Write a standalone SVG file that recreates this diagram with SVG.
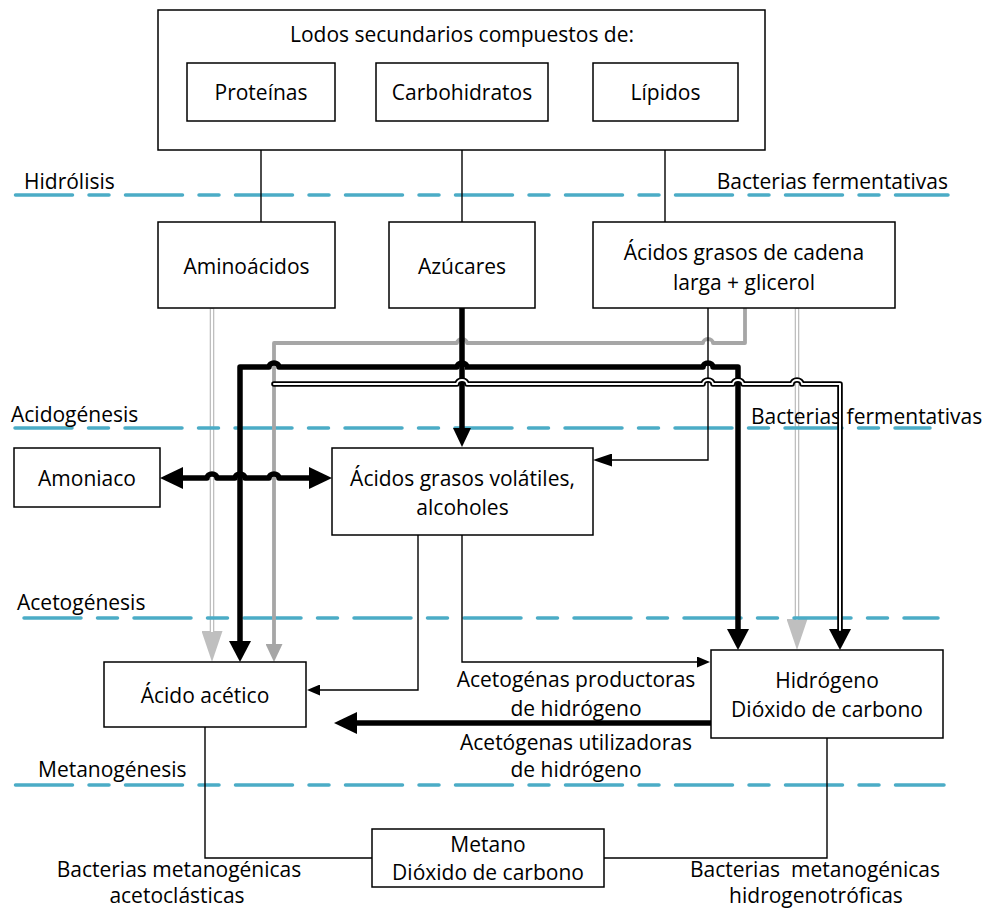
<svg xmlns="http://www.w3.org/2000/svg" width="989" height="911" viewBox="0 0 989 911">
<style>
.box{fill:#fff;stroke:#000;stroke-width:1.5}
.t{font-family:"Open Sans","Liberation Sans",sans-serif;font-size:21px;fill:#000;text-anchor:middle}
.ts{text-anchor:start}
.te{text-anchor:end}
.dash{stroke:#4BACC6;stroke-width:3.5;stroke-linecap:round;stroke-dasharray:57 16.5 20 16.5;fill:none}
.thin{stroke:#000;stroke-width:1.4;fill:none}
.thick{stroke:#000;stroke-width:5.5;fill:none;stroke-linejoin:round}
.gray{stroke:#A6A6A6;stroke-width:3.8;fill:none;stroke-linejoin:round}
.lgo{stroke:#BFBFBF;stroke-width:4.6;fill:none}
.lgi{stroke:#fff;stroke-width:2;fill:none}
.bdo{stroke:#000;stroke-width:5.6;fill:none;stroke-linejoin:round;stroke-linecap:round}
.bdi{stroke:#fff;stroke-width:2;fill:none;stroke-linejoin:round;stroke-linecap:round}
</style>
<defs>
<marker id="hThick" markerUnits="userSpaceOnUse" viewBox="0 -11 21 22" markerWidth="21" markerHeight="22" refX="1" refY="0" orient="auto"><path d="M0,-11 L21,0 L0,11 z" fill="#000"/></marker>
<marker id="hThickS" markerUnits="userSpaceOnUse" viewBox="0 -9 19 18" markerWidth="19" markerHeight="18" refX="1" refY="0" orient="auto"><path d="M0,-9 L19,0 L0,9 z" fill="#000"/></marker>
<marker id="hAmm" markerUnits="userSpaceOnUse" viewBox="0 -11 23 22" markerWidth="23" markerHeight="22" refX="1" refY="0" orient="auto-start-reverse"><path d="M0,-11 L23,0 L0,11 z" fill="#000"/></marker>
<marker id="hGray" markerUnits="userSpaceOnUse" viewBox="0 -8.5 18 17" markerWidth="18" markerHeight="17" refX="1" refY="0" orient="auto"><path d="M0,-8.5 L18,0 L0,8.5 z" fill="#A6A6A6"/></marker>
<marker id="hLG" markerUnits="userSpaceOnUse" viewBox="0 -10.5 31 21" markerWidth="31" markerHeight="21" refX="1" refY="0" orient="auto"><path d="M0,-10.5 L31,0 L0,10.5 z" fill="#BFBFBF"/></marker>
<marker id="hThin" markerUnits="userSpaceOnUse" viewBox="0 -5.5 13 11" markerWidth="13" markerHeight="11" refX="1" refY="0" orient="auto"><path d="M0,-5.5 L13,0 L0,5.5 z" fill="#000"/></marker>
<marker id="hThin2" markerUnits="userSpaceOnUse" viewBox="0 -6.5 19 13" markerWidth="19" markerHeight="13" refX="1" refY="0" orient="auto"><path d="M0,-6.5 L19,0 L0,6.5 z" fill="#000"/></marker>
</defs>
<rect width="989" height="911" fill="#fff"/>

<g id="connectors">
  <path class="lgo" d="M212,308 V632" marker-end="url(#hLG)"/>
  <path class="lgi" d="M212,309 V632"/>
  <path class="lgo" d="M797,308 V620" marker-end="url(#hLG)"/>
  <path class="lgi" d="M797,309 V620"/>
</g>

<g id="phases">
  <line class="dash" x1="15.5" y1="195" x2="948" y2="195"/>
  <line class="dash" x1="15" y1="428" x2="930" y2="428"/>
  <line class="dash" x1="24" y1="618" x2="938" y2="618"/>
  <line class="dash" x1="15.5" y1="785" x2="944" y2="785"/>
  <text class="t ts" x="24" y="189">Hidrólisis</text>
  <text class="t te" x="948" y="189">Bacterias fermentativas</text>
  <text class="t ts" x="11" y="422">Acidogénesis</text>
  <text class="t ts" x="751" y="424">Bacterias fermentativas</text>
  <text class="t ts" x="17" y="610">Acetogénesis</text>
  <text class="t ts" x="38" y="777">Metanogénesis</text>
</g>

<g id="connectors2">
  <path class="thin" d="M261,121 V222"/>
  <path class="thin" d="M462,121 V222"/>
  <path class="thin" d="M665,121 V222"/>
  <path class="gray" d="M745,308 V343 H713 A5,4 0 0 0 703,343 H467 A5,4 0 0 0 457,343 H274 V645" marker-end="url(#hGray)"/>
  <path class="thin" d="M708,308 V460 H611" marker-end="url(#hThin2)"/>
  <path class="thick" d="M462,308 V429" marker-end="url(#hThickS)"/>
  <path class="thick" d="M467,367 A5,4 0 0 0 457,367 H279 A5,4 0 0 0 269,367 H240 V642" marker-end="url(#hThick)"/>
  <path class="thick" d="M465,367 H703 A5,4 0 0 1 713,367 H738 V630" marker-end="url(#hThick)"/>
  <path class="bdo" d="M274,384 H457 A5,4 0 0 1 467,384 H703 A5,4 0 0 1 713,384 H733 A5,4 0 0 1 743,384 H792 A5,4 0 0 1 802,384 H840 V630" marker-end="url(#hThick)"/>
  <path class="bdi" d="M274,384 H457 A5,4 0 0 1 467,384 H703 A5,4 0 0 1 713,384 H733 A5,4 0 0 1 743,384 H792 A5,4 0 0 1 802,384 H840 V630"/>
  <path class="thick" d="M182,478 H207 A5,4 0 0 1 217,478 H235 A5,4 0 0 1 245,478 H269 A5,4 0 0 1 279,478 H310" marker-start="url(#hAmm)" marker-end="url(#hAmm)"/>
  <path class="thin" d="M418,535 V690 H319" marker-end="url(#hThin)"/>
  <path class="thin" d="M462,535 V662 H698" marker-end="url(#hThin)"/>
  <path class="thick" d="M711,723 H356" marker-end="url(#hAmm)"/>
  <path class="thin" d="M205,727 V858 H372"/>
  <path class="thin" d="M827,738 V858 H604"/>
</g>

<g id="lodos">
  <rect class="box" x="158" y="10" width="607" height="140"/>
  <text class="t" x="462" y="42">Lodos secundarios compuestos de:</text>
</g>
<g id="proteinas">
  <rect class="box" x="187" y="63" width="148" height="58"/>
  <text class="t" x="261" y="100">Proteínas</text>
</g>
<g id="carbohidratos">
  <rect class="box" x="376" y="63" width="172" height="58"/>
  <text class="t" x="462" y="100">Carbohidratos</text>
</g>
<g id="lipidos">
  <rect class="box" x="593" y="63" width="145" height="58"/>
  <text class="t" x="665.5" y="100">Lípidos</text>
</g>
<g id="aminoacidos">
  <rect class="box" x="158" y="222" width="177" height="86"/>
  <text class="t" x="246.5" y="274">Aminoácidos</text>
</g>
<g id="azucares">
  <rect class="box" x="389" y="222" width="146" height="86"/>
  <text class="t" x="462" y="274">Azúcares</text>
</g>
<g id="acidos-grasos-largos">
  <rect class="box" x="593" y="222" width="302" height="86"/>
  <text class="t" x="744" y="260">Ácidos grasos de cadena</text>
  <text class="t" x="744" y="290">larga + glicerol</text>
</g>
<g id="amoniaco">
  <rect class="box" x="14" y="448" width="146" height="59"/>
  <text class="t" x="87" y="486">Amoniaco</text>
</g>
<g id="volatiles">
  <rect class="box" x="332" y="448" width="261" height="87"/>
  <text class="t" x="462.5" y="486">Ácidos grasos volátiles,</text>
  <text class="t" x="462.5" y="515">alcoholes</text>
</g>
<g id="acido-acetico">
  <rect class="box" x="104" y="662" width="202" height="65"/>
  <text class="t" x="205" y="703">Ácido acético</text>
</g>
<g id="hidrogeno">
  <rect class="box" x="711" y="650" width="232" height="88"/>
  <text class="t" x="827" y="688">Hidrógeno</text>
  <text class="t" x="827" y="717">Dióxido de carbono</text>
</g>
<g id="metano">
  <rect class="box" x="372" y="829" width="232" height="58"/>
  <text class="t" x="488" y="852">Metano</text>
  <text class="t" x="488" y="880">Dióxido de carbono</text>
</g>
<g id="labels">
  <text class="t" x="576" y="687">Acetogénas productoras</text>
  <text class="t" x="576" y="716">de hidrógeno</text>
  <text class="t" x="576" y="750">Acetógenas utilizadoras</text>
  <text class="t" x="576" y="777">de hidrógeno</text>
  <text class="t" x="179" y="877">Bacterias metanogénicas</text>
  <text class="t" x="177" y="903">acetoclásticas</text>
  <text class="t" x="815" y="877" xml:space="preserve">Bacterias  metanogénicas</text>
  <text class="t" x="816" y="903">hidrogenotróficas</text>
</g>
</svg>
